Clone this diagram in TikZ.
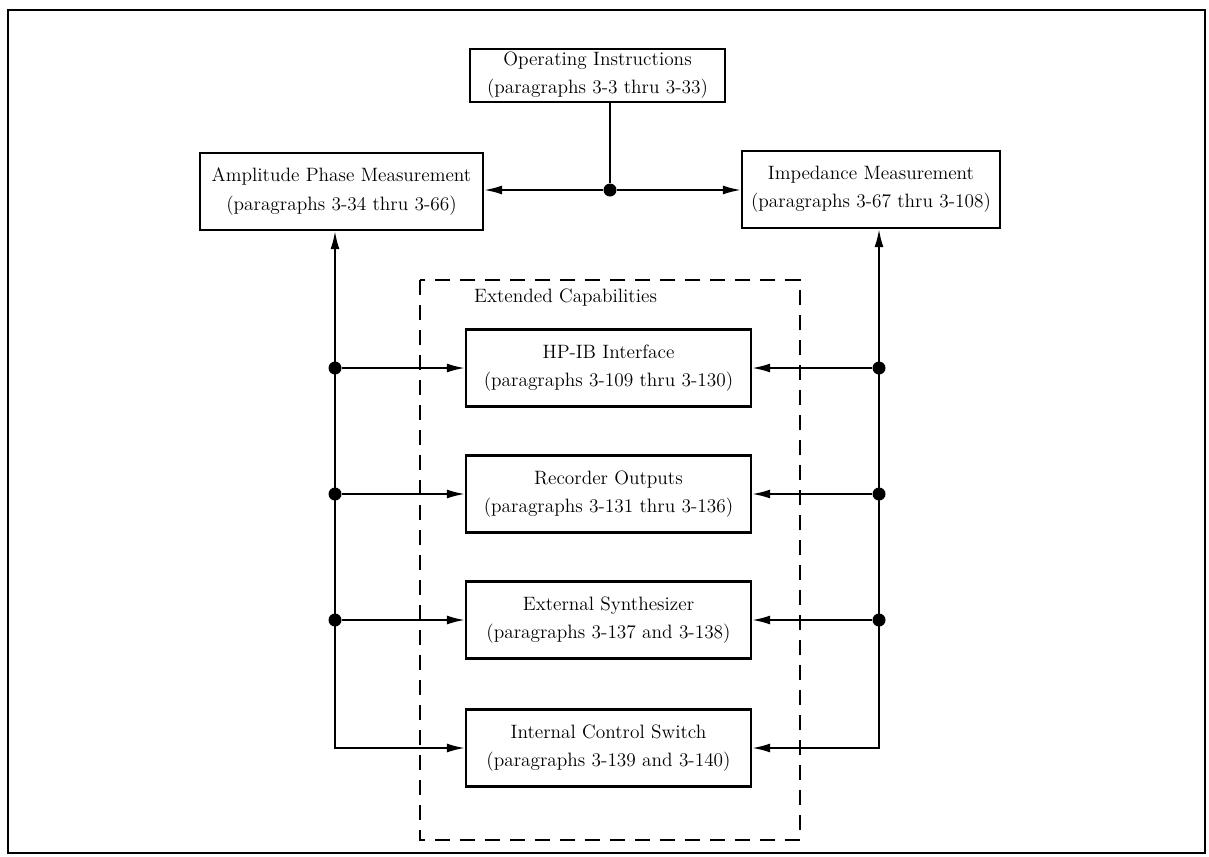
\documentclass[tikz,border=0pt]{standalone}
\usetikzlibrary{arrows.meta}

\tikzset{
	>={Latex[length=3.6mm, width=1.8mm]},
	bloque/.style={draw, line width=1.3pt, align=center, inner sep=0pt, font=\fontsize{11}{16}\selectfont},
	linea/.style={line width=1.1pt},
	punto/.style={circle, fill, inner sep=0pt, minimum size=2.6mm},
}

\begin{document}
\begin{tikzpicture}[x=0.02cm, y=-0.02cm]

\useasboundingbox (0,0) rectangle (1209,856);
\draw[line width=1.2pt] (8,10) rectangle (1205,853);

% Bloques principales
\node[bloque, minimum width=5.1cm, minimum height=1.06cm] (ops) at (597.5,75.5) {Operating Instructions\\(paragraphs 3-3 thru 3-33)};
\node[bloque, minimum width=5.66cm, minimum height=1.54cm] (amp) at (341.5,191.5) {Amplitude Phase Measurement\\(paragraphs 3-34 thru 3-66)};
\node[bloque, minimum width=5.16cm, minimum height=1.54cm] (imp) at (871,189.5) {Impedance Measurement\\(paragraphs 3-67 thru 3-108)};

\node[punto] (J) at (610,190) {};
\draw[linea] (ops.south -| J) -- (J);
\draw[linea, ->] (J) -- (amp.east |- J);
\draw[linea, ->] (J) -- (imp.west |- J);

% Capacidades extendidas
\draw[line width=1pt, dash pattern=on 0.3cm off 0.2cm] (420,280) rectangle (800,840);
\node[anchor=base west, font=\fontsize{11}{16}\selectfont] (ext) at (468,302) {Extended Capabilities};

	\foreach \n/\y/\a/\b in {hpib/368/HP-IB Interface/paragraphs 3-109 thru 3-130,
			rec/494/Recorder Outputs/paragraphs 3-131 thru 3-136,
			syn/620/External Synthesizer/paragraphs 3-137 and 3-138,
			ics/748/Internal Control Switch/paragraphs 3-139 and 3-140}
		\node[bloque, minimum width=5.7cm, minimum height=1.54cm] (\n) at (608.5,\y) {\a\\(\b)};

	\coordinate (lb) at (335,748);
	\coordinate (rb) at (879,748);
	\draw[linea, <->] (lb |- amp.south) -- (lb) -- (ics.west);
	\draw[linea, <->] (rb |- imp.south) -- (rb) -- (ics.east);

	\foreach \n in {hpib, rec, syn} {
		\node[punto] (l\n) at (lb |- \n.west) {};
		\node[punto] (r\n) at (rb |- \n.east) {};
		\draw[linea, ->] (l\n) -- (\n.west);
		\draw[linea, ->] (r\n) -- (\n.east);
	}
\end{tikzpicture}
\end{document}
